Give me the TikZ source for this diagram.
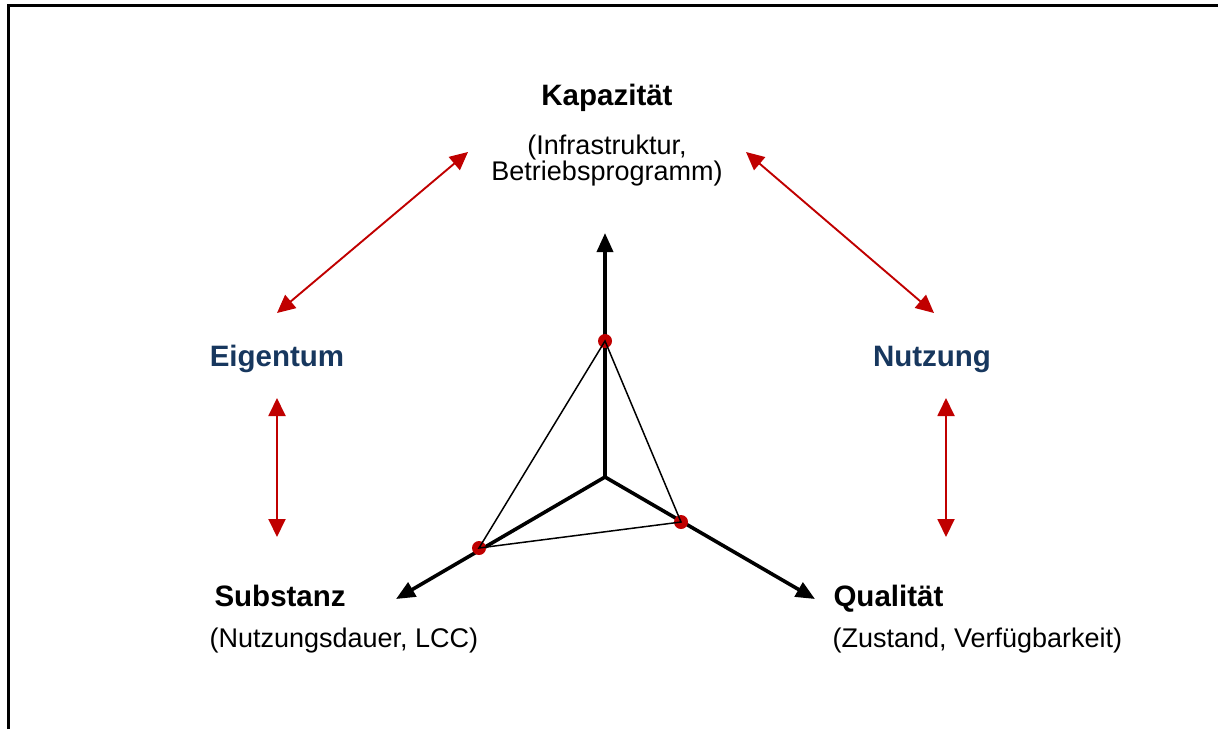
\documentclass[tikz,border=0pt]{standalone}
\usepackage{fontspec}
\setmainfont{Liberation Sans}
\usetikzlibrary{arrows.meta}
\definecolor{linkred}{RGB}{192,0,0}
\definecolor{darkblue}{RGB}{23,55,94}
\begin{document}
\begin{tikzpicture}[x=1pt,y=-1pt,
    title/.style={font=\fontsize{29.5}{30}\selectfont\bfseries},
    note/.style={font=\fontsize{27}{24}\selectfont},
    link/.style={linkred,line width=1.9pt,{Triangle[length=18pt,width=17pt]}-{Triangle[length=18pt,width=17pt]}},
    axis/.style={line width=3.6pt,-{Triangle[length=19pt,width=16pt]}},
    dot/.style={circle,fill=linkred,inner sep=0pt,minimum size=14pt}]
    \useasboundingbox (0,0) rectangle (1218,729);
    \draw [line width=3pt] (8,729) -- (8,5) -- (1218,5);
    \node [title,anchor=base] (kap) at (607,105) {Kapazität};
    \node [note,align=center,anchor=north,inner sep=0pt] (kap1) at (607,135) {(Infrastruktur,\\Betriebsprogramm)};
    \node [title,anchor=base,darkblue] (eig) at (277,366) {Eigentum};
    \node [title,anchor=base,darkblue] (nutz) at (932,366) {Nutzung};
    \node [title,anchor=base west] (sub) at (211,606) {Substanz};
    \node [note,anchor=base west] (sub1) at (206,647) {(Nutzungsdauer, LCC)};
    \node [title,anchor=base west] (qual) at (830,606) {Qualität};
    \node [note,anchor=base west] (qual1) at (829,647) {(Zustand, Verfügbarkeit)};
    \coordinate (k1) at (468,152);
    \coordinate (k2) at (746,152);
    \coordinate (e1) at (277,313);
    \coordinate (e2) at (277,398);
    \coordinate (s1) at (277,537);
    \coordinate (n1) at (934,313);
    \coordinate (n2) at (946,398);
    \coordinate (q1) at (946,537);
    \draw [link] (k1) -- (e1);
    \draw [link] (k2) -- (n1);
    \draw [link] (e2) -- (s1);
    \draw [link] (n2) -- (q1);
    \coordinate (o) at (605,477);
    \coordinate (up) at (605,233);
    \coordinate (left) at (396,599);
    \coordinate (right) at (815,599);
    \draw [axis] (o) -- (up);
    \draw [axis] (o) -- (left);
    \draw [axis] (o) -- (right);
    \node [dot] (d1) at (605,341) {};
    \node [dot] (d2) at (479,548) {};
    \node [dot] (d3) at (681,522) {};
    \draw [line width=1.5pt] (d1.center) -- (d2.center) -- (d3.center) -- cycle;
\end{tikzpicture}
\end{document}
